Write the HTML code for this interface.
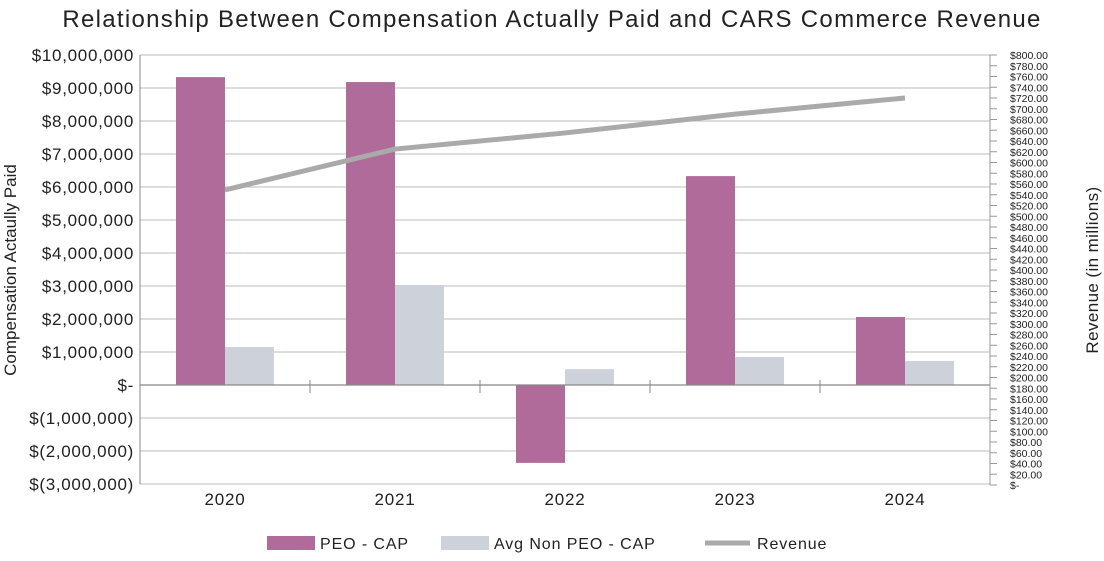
<!DOCTYPE html>
<html><head><meta charset="utf-8"><style>
body{margin:0;background:#fff;font-family:"Liberation Sans",sans-serif;}
svg text{font-family:"Liberation Sans",sans-serif;fill:#222;}
</style></head><body>
<svg width="1104" height="556" viewBox="0 0 1104 556">
<text x="552" y="27" text-anchor="middle" font-size="24" letter-spacing="1.3">Relationship Between Compensation Actually Paid and CARS Commerce Revenue</text>
<g id="grid"></g><g id="bars"></g><g id="axes"></g><g id="line"></g>
<text transform="translate(16,270) rotate(-90)" text-anchor="middle" font-size="17">Compensation Actaully Paid</text>
<text transform="translate(1098,270) rotate(-90)" text-anchor="middle" font-size="17" letter-spacing="0.4">Revenue (in millions)</text>
<g>
<rect x="267" y="536" width="48" height="14" fill="#b06b9b"/>
<text x="320" y="549" font-size="16" letter-spacing="0.9">PEO - CAP</text>
<rect x="441" y="536" width="48" height="14" fill="#cdd1da"/>
<text x="494" y="549" font-size="16" letter-spacing="0.9">Avg Non PEO - CAP</text>
<line x1="705" y1="543" x2="750" y2="543" stroke="#aaa" stroke-width="5"/>
<text x="757" y="549" font-size="16" letter-spacing="0.9">Revenue</text>
</g>
</svg>
<script>
const categories=["2020","2021","2022","2023","2024"];
const peoCap=[9330000,9180000,-2360000,6330000,2060000];
const nonPeoCap=[1150000,3030000,480000,850000,730000];
const revenue=[549,625,655,690,720];
const leftTicks=[10000000,9000000,8000000,7000000,6000000,5000000,4000000,3000000,2000000,1000000,0,-1000000,-2000000,-3000000];
const NS="http://www.w3.org/2000/svg";
const X0=140,X1=990,Y0=385,PX=33e-6;
const yL=v=>Y0-v*PX;
const yR=v=>485-v*0.5375;
const cw=(X1-X0)/categories.length;
const cx=i=>X0+cw*(i+0.5);
function mk(p,t,a){const e=document.createElementNS(NS,t);for(const k in a)e.setAttribute(k,a[k]);document.getElementById(p).appendChild(e);return e;}
function fmt(v){if(v===0)return "$-";const s=Math.abs(v).toLocaleString("en-US");return v<0?"$("+s+")":"$"+s;}
leftTicks.forEach(v=>{
 if(v!==0){const g=mk("grid","line",{x1:X0,x2:X1,y1:yL(v),y2:yL(v),stroke:"#bbb","stroke-width":1});
 
 }
 const t=mk("axes","text",{x:134,y:yL(v)+6,"text-anchor":"end","font-size":17,"letter-spacing":0.7});
 t.textContent=fmt(v);
 
 
});
for(let r=0;r<=800;r+=20){
 const y=yR(r);
 const tk=mk("axes","line",{x1:X1,x2:X1+7,y1:y,y2:y,stroke:"#999"});
 
 
 const t=mk("axes","text",{x:1010,y:y+4,"font-size":10.5});
 t.textContent=r===0?"$-":"$"+r.toFixed(2);
 
 
}
const bw=49;
categories.forEach((c,i)=>{
 const p=peoCap[i],n=nonPeoCap[i];
 const b1=mk("bars","rect",{x:cx(i)-bw,y:Math.min(yL(p),Y0),width:bw,height:Math.abs(yL(p)-Y0),fill:"#b06b9b"});
 
 
 const b2=mk("bars","rect",{x:cx(i),y:Math.min(yL(n),Y0),width:bw,height:Math.abs(yL(n)-Y0),fill:"#cdd1da"});
 
 
 const t=mk("axes","text",{x:cx(i),y:505,"text-anchor":"middle","font-size":17,"letter-spacing":0.8});
 t.textContent=c;
 
 
 if(i>0){const tk=mk("axes","line",{x1:X0+cw*i,x2:X0+cw*i,y1:Y0-5,y2:Y0+8,stroke:"#888"});
 
 }
});
let a=mk("axes","line",{x1:X0,x2:X1,y1:Y0,y2:Y0,stroke:"#888","stroke-width":1.2});

a=mk("axes","line",{x1:X0,x2:X1,y1:yL(-3000000),y2:yL(-3000000),stroke:"#bbb"});

a=mk("axes","line",{x1:X0,x2:X0,y1:yL(10000000),y2:yL(-3000000),stroke:"#888"});

a=mk("axes","line",{x1:X1,x2:X1,y1:yR(800),y2:yR(0),stroke:"#999"});

const pl=mk("line","polyline",{points:revenue.map((r,i)=>cx(i)+","+yR(r)).join(" "),fill:"none",stroke:"#aaa","stroke-width":5});


</script>
</body></html>
